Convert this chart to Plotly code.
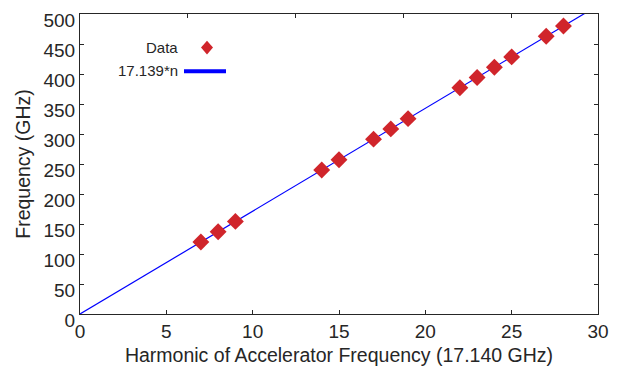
import plotly.graph_objects as go

# Data
harmonic_n = [7, 8, 9, 14, 15, 17, 18, 19, 22, 23, 24, 25, 27, 28]
freq_ghz = [120.0, 137.1, 154.3, 239.9, 257.1, 291.4, 308.5, 325.6, 377.1, 394.2, 411.3, 428.5, 462.8, 479.9]
fit_slope = 17.139
fit_n = [0, 30]
fit_freq = [fit_slope * v for v in fit_n]

x_ticks = [0, 5, 10, 15, 20, 25, 30]
y_ticks = [0, 50, 100, 150, 200, 250, 300, 350, 400, 450, 500]
top_ticks = [6.25, 12.5, 18.75, 25]

FONT = "Liberation Sans, Arial, sans-serif"
TXT = "#262626"
AX = "#262626"
RED = "#D0252B"
BLUE = "#0000FF"

fig = go.Figure()
fig.add_trace(go.Scatter(x=fit_n, y=fit_freq, mode="lines",
                         line=dict(color=BLUE, width=1.2), name="17.139*n",
                         showlegend=False, cliponaxis=True))
fig.add_trace(go.Scatter(x=harmonic_n, y=freq_ghz, mode="markers",
                         marker=dict(symbol="diamond", size=13, color=RED,
                                     line=dict(width=0)),
                         name="Data", showlegend=False))
# invisible trace to create top axis ticks
fig.add_trace(go.Scatter(x=[0, 30], y=[0, 0], xaxis="x2", mode="lines",
                         line=dict(width=0), hoverinfo="skip", showlegend=False))

fig.update_layout(
    width=623, height=375,
    margin=dict(l=80, r=25, t=10, b=61),
    paper_bgcolor="white", plot_bgcolor="white",
    font=dict(family=FONT, size=19, color=TXT),
    xaxis=dict(range=[0, 30], tickvals=x_ticks, ticks="inside", ticklen=4,
               tickcolor=AX, tickwidth=1, showline=True, linecolor=AX,
               linewidth=1, showgrid=False, zeroline=False,
               title=dict(text="Harmonic of Accelerator Frequency (17.140 GHz)",
                          standoff=7, font=dict(size=19.5, color=TXT)),
               tickfont=dict(size=19, color=TXT)),
    xaxis2=dict(range=[0, 30], overlaying="x", side="top", tickvals=top_ticks,
                ticks="inside", ticklen=4, tickcolor=AX, showticklabels=False,
                showline=True, linecolor=AX, linewidth=1, showgrid=False,
                zeroline=False),
    yaxis=dict(range=[0, 500], tickvals=y_ticks, ticks="inside", ticklen=4,
               tickcolor=AX, tickwidth=1, showline=True, linecolor=AX,
               linewidth=1, mirror="ticks", showgrid=False, zeroline=False,
               ticklabelshift=6, ticklabeloverflow="allow",
               title=dict(text="Frequency (GHz)", standoff=7,
                          font=dict(size=19.5, color=TXT)),
               tickfont=dict(size=19, color=TXT)),
)

# Manual legend (MATLAB style: text left, symbol right)
W, H = 623, 375
L, R, T, B = 80, 25, 10, 61
pw, ph = W - L - R, H - T - B
def px(x):
    return (x - L) / pw
def py(y):
    return 1 - (y - T) / ph

fig.add_annotation(x=px(180), y=py(44), xref="paper", yref="paper", text="Data",
                   showarrow=False, xanchor="right", yanchor="middle",
                   font=dict(size=15, color=TXT))
fig.add_annotation(x=px(180), y=py(67), xref="paper", yref="paper", text="17.139*n",
                   showarrow=False, xanchor="right", yanchor="middle",
                   font=dict(size=15, color=TXT))

cx, cy, hw, hh = 207, 44, 6, 7
fig.add_shape(type="path", xref="paper", yref="paper",
              path=f"M {px(cx-hw)} {py(cy)} L {px(cx)} {py(cy-hh)} L {px(cx+hw)} {py(cy)} L {px(cx)} {py(cy+hh)} Z",
              fillcolor=RED, line=dict(width=0))
fig.add_shape(type="line", xref="paper", yref="paper",
              x0=px(184), x1=px(226), y0=py(68), y1=py(68),
              line=dict(color=BLUE, width=4))

fig.write_html("out.html")
